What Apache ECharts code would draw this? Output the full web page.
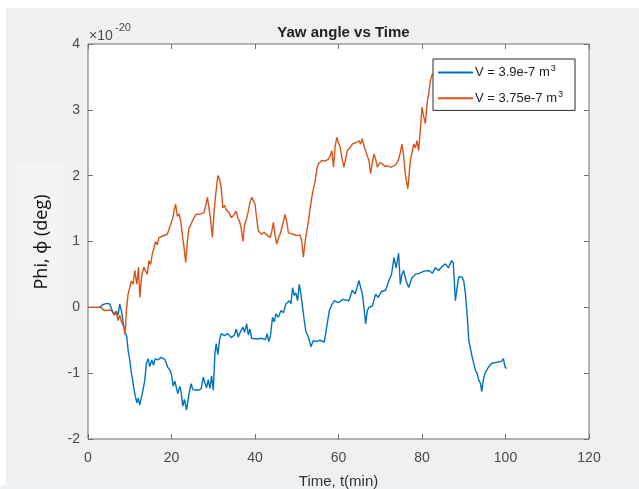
<!DOCTYPE html>
<html>
<head>
  <meta charset="utf-8">
  <title>Yaw angle vs Time</title>
  <script src="https://cdn.jsdelivr.net/npm/echarts@6/dist/echarts.min.js"></script>
  <style>
    html, body { margin: 0; padding: 0; background: #fff; }
    #figure_bg { position: absolute; left: 6px; top: 8px; width: 633px; height: 477px; background: #f0f0f0; }
    #bottom_strip { position: absolute; left: 0; top: 485px; width: 639px; height: 4px; background: #eef2f6; }
    #chart { position: absolute; left: 0; top: 0; width: 639px; height: 489px; }
  </style>
</head>
<body>
<div id="figure_bg"></div>
<div id="bottom_strip"></div>
<div id="chart"></div>
<script type="text/javascript">
// legend names (superscript 3 added in the formatter)
var seriesNames = ['V = 3.9e-7 m', 'V = 3.75e-7 m'];
var seriesColors = ['#0072BD', '#D95319'];

// axis ticks
var xTicks = [0, 20, 40, 60, 80, 100, 120];
var yTicks = [-2, -1, 0, 1, 2, 3, 4];

// V = 3.9e-7 m^3 : time (min)
var blueT = [0, 2.9, 3.5, 4.5, 5.2, 5.8, 6.3, 6.8, 7.2, 7.6, 8.0, 8.6, 8.9, 9.3, 9.6, 10.0, 10.4, 10.8, 11.2, 11.7,
  12.0, 12.4, 13.0, 13.6, 14.0, 14.4, 14.8, 15.3, 15.7, 16.1, 16.7, 17.5, 18.4, 19.1, 19.6, 20.0, 20.4, 20.8, 21.5, 22.0,
  22.3, 22.7, 23.1, 23.6, 24.2, 24.7, 25.1, 25.5, 26.3, 27.1, 27.6, 28.0, 28.4, 28.8, 29.2, 29.6, 30.0, 30.4, 30.7, 31.1,
  31.5, 31.9, 32.7, 33.5, 34.3, 35.1, 35.5, 36.0, 36.3, 37.1, 37.5, 38.0, 38.4, 38.8, 39.2, 40.4, 41.5, 42.5, 42.9, 43.3,
  43.7, 44.2, 44.6, 45.0, 45.6, 46.2, 46.8, 47.4, 48.2, 48.6, 49.0, 49.4, 49.8, 50.2, 50.6, 51.0, 51.4, 51.8, 52.2, 52.8,
  53.4, 54.0, 54.6, 55.6, 56.6, 57.0, 57.8, 58.5, 59.0, 60.0, 61.0, 62.5, 63.3, 64.0, 64.9, 65.3, 65.7, 66.1, 66.5, 66.9,
  67.3, 68.1, 68.9, 69.5, 70.3, 71.3, 72.1, 72.7, 73.3, 73.8, 74.4, 74.8, 75.2, 75.6, 76.2, 76.8, 77.6, 78.4, 79.5, 80.5,
  81.6, 82.5, 83.2, 84.0, 84.8, 85.6, 86.3, 87.1, 87.5, 88.0, 88.4, 88.8, 89.6, 90.0, 90.4, 90.8, 91.2, 92.0, 92.8, 93.2,
  93.6, 94.0, 94.3, 94.7, 95.1, 95.5, 95.9, 96.7, 97.5, 98.3, 99.0, 99.5, 99.9, 100.3];
// V = 3.9e-7 m^3 : phi (x 1e-20 deg)
var bluePhi = [0, 0, 0.04, 0.06, 0.05, -0.05, -0.1, -0.06, -0.12, 0.05, -0.05, -0.3, -0.38, -0.45, -0.65, -0.8, -1.0, -1.15, -1.31, -1.45,
  -1.38, -1.48, -1.31, -1.11, -0.85, -0.78, -0.9, -0.8, -0.88, -0.78, -0.8, -0.76, -0.79, -0.91, -0.95, -1.02, -1.2, -1.12, -1.31, -1.2,
  -1.28, -1.5, -1.4, -1.56, -1.31, -1.16, -1.25, -1.22, -1.26, -1.24, -1.06, -1.15, -1.22, -1.1, -1.23, -1.04, -1.26, -0.7, -0.55, -0.72,
  -0.5, -0.4, -0.43, -0.4, -0.46, -0.42, -0.33, -0.45, -0.4, -0.3, -0.38, -0.25, -0.42, -0.33, -0.47, -0.48, -0.47, -0.49, -0.4, -0.52,
  -0.43, -0.15, -0.22, -0.1, -0.15, -0.05, -0.08, 0.05, 0.1, 0.05, 0.3, 0.18, 0.22, 0.1, 0.35, 0.2, 0.0, -0.2, -0.37, -0.45,
  -0.6, -0.5, -0.52, -0.5, -0.53, -0.37, -0.05, 0.05, 0.1, 0.07, 0.12, 0.1, 0.26, 0.2, 0.41, 0.3, 0.21, 0.0, -0.25, -0.05,
  0.0, 0.02, 0.2, 0.15, 0.24, 0.26, 0.41, 0.5, 0.76, 0.6, 0.82, 0.35, 0.5, 0.56, 0.4, 0.3, 0.45, 0.5, 0.52, 0.55,
  0.56, 0.52, 0.6, 0.56, 0.62, 0.66, 0.6, 0.71, 0.67, 0.1, 0.3, 0.46, 0.46, 0.4, 0.21, -0.1, -0.5, -0.75, -0.96, -1.0,
  -1.11, -1.15, -1.28, -1.1, -1.0, -0.98, -0.91, -0.85, -0.84, -0.83, -0.82, -0.78, -0.91, -0.93];

// V = 3.75e-7 m^3 : time (min)
var orangeT = [0, 3.0, 4.0, 5.5, 6.3, 6.8, 7.2, 7.6, 8.0, 8.6, 8.9, 9.2, 9.6, 10.0, 10.4, 10.8, 11.2, 11.7, 12.1, 12.4,
  12.9, 13.4, 13.8, 14.2, 14.6, 15.0, 15.4, 15.8, 16.2, 16.6, 17.0, 17.8, 19.0, 19.8, 20.3, 20.6, 21.0, 21.4, 21.8, 22.2,
  22.6, 23.0, 23.4, 23.8, 24.2, 24.6, 25.0, 25.4, 25.8, 27.0, 27.8, 28.2, 28.6, 29.0, 29.4, 29.8, 30.2, 30.6, 31.1, 31.5,
  31.9, 32.3, 32.7, 33.1, 33.7, 34.3, 34.9, 35.5, 35.9, 36.3, 36.7, 37.1, 37.5, 38.0, 38.4, 38.8, 39.2, 39.6, 40.0, 40.4,
  40.8, 41.6, 42.2, 42.8, 43.6, 44.0, 44.4, 44.8, 45.2, 45.6, 46.0, 46.6, 47.2, 47.6, 48.0, 48.6, 49.2, 50.0, 50.8, 51.2,
  51.6, 52.0, 52.4, 52.8, 53.2, 53.6, 54.0, 54.4, 54.8, 55.2, 56.0, 56.8, 57.6, 58.0, 58.4, 58.8, 59.2, 59.6, 60.0, 60.4,
  60.8, 61.3, 61.7, 62.1, 62.7, 63.3, 64.1, 64.9, 65.3, 65.7, 66.1, 66.5, 66.9, 67.3, 67.7, 68.1, 68.5, 68.9, 69.3, 69.9,
  70.5, 71.1, 71.7, 72.5, 73.3, 73.9, 74.4, 74.8, 75.2, 75.6, 76.0, 76.3, 76.6, 76.9, 77.2, 77.6, 78.0, 78.4, 78.8, 79.2,
  79.6, 80.0, 80.4, 80.8, 81.2, 81.6, 82.0, 82.5];
// V = 3.75e-7 m^3 : phi (x 1e-20 deg)
var orangePhi = [0, 0, -0.05, -0.04, -0.12, -0.08, -0.2, -0.12, -0.22, -0.3, -0.42, -0.05, 0.2, 0.3, 0.4, 0.35, 0.56, 0.35, 0.61, 0.15,
  0.5, 0.61, 0.55, 0.5, 0.71, 0.65, 0.81, 0.9, 1.0, 0.95, 1.06, 1.08, 1.11, 1.26, 1.35, 1.46, 1.57, 1.38, 1.42, 1.31,
  1.1, 0.91, 0.68, 1.0, 1.21, 1.25, 1.31, 1.36, 1.41, 1.42, 1.44, 1.55, 1.67, 1.5, 1.31, 1.06, 1.45, 1.72, 2.0, 1.95,
  1.82, 1.51, 1.55, 1.48, 1.45, 1.36, 1.4, 1.46, 1.35, 1.31, 1.2, 1.0, 1.25, 1.35, 1.46, 1.6, 1.67, 1.62, 1.57, 1.35,
  1.16, 1.11, 1.14, 1.1, 1.06, 1.15, 1.29, 1.1, 0.96, 1.05, 1.11, 1.25, 1.41, 1.3, 1.13, 1.12, 1.11, 1.09, 1.1, 1.0,
  0.76, 1.0, 1.15, 1.31, 1.5, 1.67, 1.8, 1.92, 2.1, 2.18, 2.23, 2.22, 2.25, 2.3, 2.38, 2.13, 2.45, 2.58, 2.5, 2.43,
  2.28, 2.13, 2.25, 2.38, 2.42, 2.48, 2.5, 2.53, 2.48, 2.56, 2.45, 2.38, 2.3, 2.23, 2.03, 2.2, 2.33, 2.25, 2.13, 2.2,
  2.18, 2.14, 2.15, 2.13, 2.15, 2.18, 2.25, 2.35, 2.48, 2.3, 2.03, 1.9, 1.8, 2.0, 2.23, 2.35, 2.48, 2.42, 2.53, 2.38,
  2.7, 3.04, 2.9, 2.79, 3.09, 3.25, 3.44, 3.55];

// pair up time and value
function pairs(t, v) {
  var out = [];
  for (var i = 0; i < t.length; i++) {
    out.push([t[i], v[i]]);
  }
  return out;
}

var myChart = echarts.init(document.getElementById('chart'));
var labelFont = 'Liberation Sans, Arial, Helvetica, sans-serif';
var tickStyle = { show: true, inside: true, length: 5, lineStyle: { color: '#6f6f6f' } };

myChart.setOption({
  backgroundColor: 'transparent',
  animation: false,
  title: {
    text: 'Yaw angle vs Time',
    left: 338.5,
    top: 20,
    textAlign: 'center',
    textStyle: { fontFamily: labelFont, fontSize: 15, fontWeight: 'bold', color: '#222' }
  },
  grid: {
    left: 88, right: 50, top: 44, bottom: 50,
    outerBoundsMode: 'none',
    show: true, backgroundColor: '#fff', borderColor: '#6f6f6f', borderWidth: 1
  },
  legend: {
    orient: 'vertical',
    left: 433, top: 59,
    padding: [5, 12, 5, 4],
    itemWidth: 35, itemHeight: 18, itemGap: 10,
    backgroundColor: '#fff',
    borderColor: '#2a2a2a', borderWidth: 1, borderRadius: 0,
    data: seriesNames,
    itemStyle: { opacity: 0 },
    formatter: function (name) { return name + '{sup|3}'; },
    textStyle: {
      fontFamily: labelFont, fontSize: 13, color: '#222', padding: [0, 0, 0, -3],
      rich: { sup: { fontFamily: labelFont, fontSize: 9, color: '#222', padding: [0, 0, 8, 1] } }
    }
  },
  xAxis: [{
    type: 'value', min: xTicks[0], max: xTicks[xTicks.length - 1], interval: 20,
    name: 'Time, t(min)', nameLocation: 'middle', nameGap: 35,
    nameTextStyle: { fontFamily: labelFont, fontSize: 15, color: '#333' },
    axisLine: { show: false, onZero: false },
    axisTick: tickStyle,
    axisLabel: { fontFamily: labelFont, fontSize: 14, color: '#4a4a4a', margin: 12 },
    splitLine: { show: false }
  }, {
    type: 'value', position: 'top', min: xTicks[0], max: xTicks[xTicks.length - 1], interval: 20,
    axisLine: { show: false, onZero: false },
    axisTick: tickStyle,
    axisLabel: { show: false },
    splitLine: { show: false }
  }],
  yAxis: [{
    type: 'value', min: yTicks[0], max: yTicks[yTicks.length - 1], interval: 1,
    axisLine: { show: false, onZero: false },
    axisTick: tickStyle,
    axisLabel: { fontFamily: labelFont, fontSize: 14, color: '#4a4a4a', margin: 8 },
    splitLine: { show: false }
  }, {
    type: 'value', position: 'right', min: yTicks[0], max: yTicks[yTicks.length - 1], interval: 1,
    axisLine: { show: false, onZero: false },
    axisTick: tickStyle,
    axisLabel: { show: false },
    splitLine: { show: false }
  }],
  graphic: [
    // soft box behind the y label
    { type: 'rect', left: 15, top: 163, shape: { width: 48, height: 157 }, style: { fill: '#f4f4f4' }, z: -1 },
    {
      type: 'text', x: 42, y: 242, rotation: Math.PI / 2,
      style: {
        text: 'Phi, \u03d5 (deg)', fontFamily: 'Open Sans, Noto Sans, sans-serif', fontSize: 18, fill: '#111',
        align: 'center', verticalAlign: 'middle'
      }
    },
    // exponent label
    { type: 'text', left: 89, top: 29, style: { text: '\u00d710', fontFamily: labelFont, fontSize: 14, fill: '#4a4a4a' } },
    { type: 'text', left: 115, top: 22, style: { text: '-20', fontFamily: labelFont, fontSize: 11, fill: '#4a4a4a' } }
  ],
  series: [{
    name: seriesNames[0], type: 'line', showSymbol: false, symbol: 'none',
    data: pairs(blueT, bluePhi),
    lineStyle: { color: seriesColors[0], width: 1.4 },
    itemStyle: { color: seriesColors[0] }
  }, {
    name: seriesNames[1], type: 'line', showSymbol: false, symbol: 'none',
    data: pairs(orangeT, orangePhi),
    lineStyle: { color: seriesColors[1], width: 1.4 },
    itemStyle: { color: seriesColors[1] }
  }]
});
</script>
</body>
</html>
